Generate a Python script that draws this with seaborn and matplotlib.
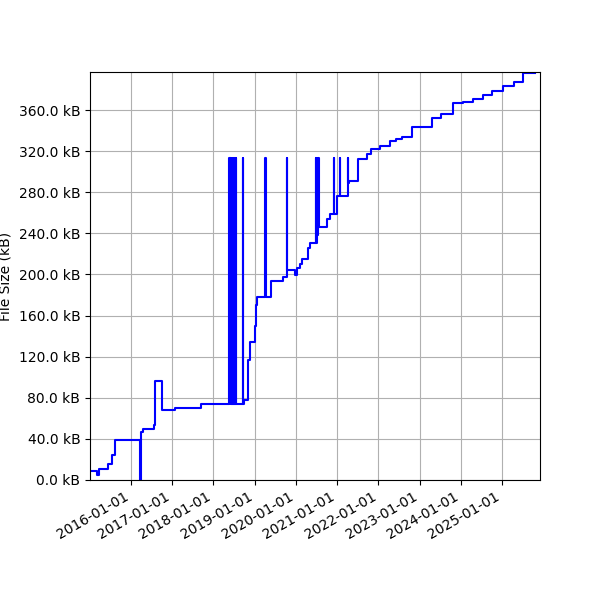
import matplotlib
matplotlib.use("Agg")
import matplotlib.pyplot as plt
import matplotlib.dates as mdates
import matplotlib.ticker as mticker
import pandas as pd
import seaborn as sns

# commit dates and file size (kB)
dates = [
    "2015-01-06", "2015-03-12", "2015-03-25", "2015-06-15", "2015-07-17", "2015-08-18",
    "2016-03-22", "2016-03-29", "2016-04-17", "2016-07-26", "2016-08-02", "2016-10-08",
    "2017-01-27", "2017-09-18",
    # burst of builds in mid 2018
    "2018-05-24", "2018-05-26", "2018-06-01", "2018-06-03", "2018-06-09", "2018-06-11",
    "2018-06-17", "2018-06-19", "2018-06-25", "2018-06-27", "2018-07-03", "2018-07-05",
    "2018-07-11", "2018-07-13", "2018-07-19", "2018-07-21",
    "2018-09-23", "2018-09-25", "2018-10-04", "2018-11-03", "2018-11-18",
    "2019-01-01", "2019-01-10", "2019-01-21", "2019-04-06", "2019-04-08",
    "2019-05-27", "2019-09-09", "2019-10-14", "2019-10-17", "2019-12-21",
    "2020-01-11", "2020-02-10", "2020-02-21", "2020-04-17", "2020-05-09",
    "2020-06-25", "2020-06-28", "2020-07-05", "2020-07-08", "2020-07-18", "2020-07-22",
    "2020-10-03", "2020-10-27", "2020-12-04", "2020-12-07", "2020-12-30",
    "2021-01-23", "2021-01-26", "2021-04-07", "2021-04-10", "2021-04-17",
    "2021-07-04", "2021-09-24", "2021-10-31",
    "2022-01-19", "2022-04-17", "2022-06-10", "2022-08-02", "2022-10-26",
    "2023-04-16", "2023-07-13", "2023-10-19",
    "2024-01-16", "2024-04-13", "2024-07-16", "2024-10-04",
    "2025-01-09", "2025-04-14", "2025-07-05", "2025-10-17",
]
size_kb = [
    8.8, 4.9, 10.4, 15.6, 24.3, 38.9,
    0.0, 47.0, 49.6, 53.5, 96.0, 68.1,
    69.7, 74.3,
    313, 74.3, 313, 74.3, 313, 74.3,
    313, 74.3, 313, 74.3, 313, 74.3,
    313, 74.3, 313, 74.3,
    313, 74.3, 77.8, 116.8, 134.6,
    150.0, 170.0, 178.0, 313, 178.0,
    194.0, 198.0, 313, 204.0, 199.0,
    206.4, 209.7, 214.6, 226.0, 230.3,
    313, 230.3, 313, 238.0, 313, 246.5,
    253.6, 258.4, 313, 258.4, 276.2,
    313, 276.2, 313, 289.0, 290.8,
    312.6, 317.0, 321.7,
    325.0, 329.5, 332.0, 334.0, 343.8,
    352.6, 356.5, 366.6,
    368.2, 370.4, 374.3, 378.2,
    383.7, 387.3, 396.0, 396.0,
]

df = pd.DataFrame({"date": pd.to_datetime(dates), "size": size_kb})

fig, ax = plt.subplots(figsize=(6, 6), dpi=100)
sns.lineplot(data=df, x="date", y="size", ax=ax, color="blue",
             drawstyle="steps-post", estimator=None, linewidth=1.5)

ax.set_xlim(df["date"].iloc[0], pd.Timestamp("2025-12-01"))
ax.set_ylim(0, 397)
ax.xaxis.set_major_locator(mdates.YearLocator())
ax.xaxis.set_major_formatter(mdates.DateFormatter("%Y-%m-%d"))
ax.yaxis.set_major_locator(mticker.MultipleLocator(40))
ax.yaxis.set_major_formatter(mticker.StrMethodFormatter("{x:.1f} kB"))
ax.set_xlabel("")
ax.set_ylabel("File Size (kB)")
ax.grid(True)

fig.autofmt_xdate()
fig.subplots_adjust(left=0.15, right=0.9, top=0.88, bottom=0.2)
fig.savefig("out.png", dpi=100)
